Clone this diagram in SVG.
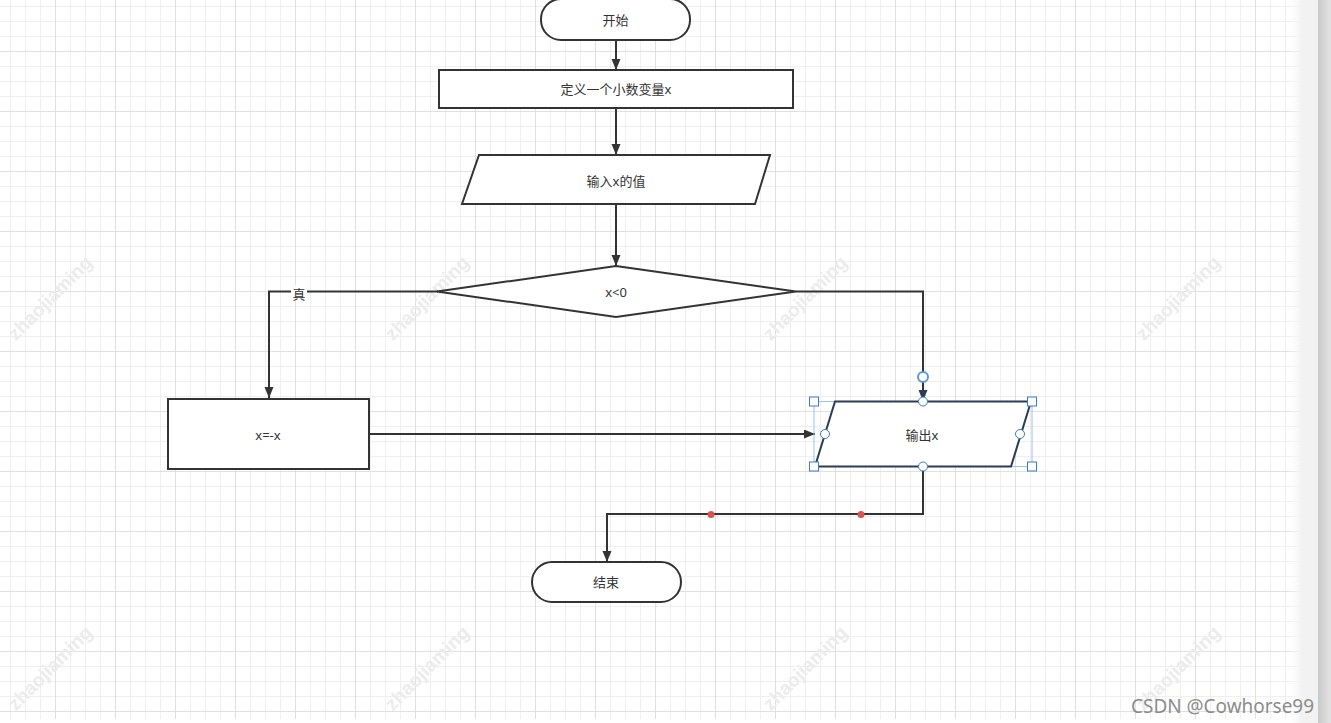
<svg xmlns="http://www.w3.org/2000/svg" width="1331" height="723" viewBox="0 0 1331 723">
<defs>
<pattern id="grid" patternUnits="userSpaceOnUse" x="10" y="6" width="60" height="60">
<path d="M0.5 0V60M15.5 0V60M30.5 0V60M0 0.5H60M0 15.5H60M0 30.5H60" stroke="#efefef" stroke-width="1" fill="none"/>
<path d="M45.5 0V60M0 45.5H60" stroke="#e0e0e0" stroke-width="1" fill="none"/>
</pattern>
<linearGradient id="side" x1="0" y1="0" x2="1" y2="0">
<stop offset="0" stop-color="#c9c9c9"/>
<stop offset="1" stop-color="#e4e4e4"/>
</linearGradient>
<linearGradient id="fade" x1="0" y1="0" x2="1" y2="0">
<stop offset="0" stop-color="#ffffff" stop-opacity="0"/>
<stop offset="1" stop-color="#f2f2f2"/>
</linearGradient>
<marker id="arr" markerUnits="userSpaceOnUse" markerWidth="12" markerHeight="10" refX="11" refY="4.5" orient="auto">
<path d="M0,0 L11,4.5 L0,9 z" fill="#333"/>
</marker>
<marker id="arrb" markerUnits="userSpaceOnUse" markerWidth="12" markerHeight="10" refX="11" refY="4.5" orient="auto">
<path d="M0,0 L11,4.5 L0,9 z" fill="#2a3d55"/>
</marker>
</defs>
<style>
.shape{fill:#fff;stroke:#333;stroke-width:2}
.lbl{font-family:"Noto Sans","Noto Sans CJK SC",sans-serif;font-size:13px;fill:#333;text-anchor:middle;dominant-baseline:central}
.conn{fill:none;stroke:#333;stroke-width:2;marker-end:url(#arr)}
.wm{font-family:"Liberation Sans",sans-serif;font-size:19px;font-weight:bold;fill:#ececec;text-anchor:middle;dominant-baseline:central}
.sq{fill:#fff;stroke:#3a7cc4;stroke-width:1}
.ci{fill:#fff;stroke:#3a7cc4;stroke-width:1}
</style>
<rect x="0" y="0" width="1331" height="723" fill="#fff"/>
<rect x="0" y="0" width="1302" height="719" fill="url(#grid)"/>
<rect x="1286" y="0" width="16" height="723" fill="url(#fade)"/>
<rect x="1302" y="0" width="16" height="723" fill="#f2f2f2"/>
<rect x="1318" y="0" width="13" height="723" fill="url(#side)"/>
<g id="watermarks">
<text class="wm" transform="translate(50,298) rotate(-45)">zhaojiaming</text>
<text class="wm" transform="translate(427,298) rotate(-45)">zhaojiaming</text>
<text class="wm" transform="translate(805,298) rotate(-45)">zhaojiaming</text>
<text class="wm" transform="translate(1178,298) rotate(-45)">zhaojiaming</text>
<text class="wm" transform="translate(50,668) rotate(-45)">zhaojiaming</text>
<text class="wm" transform="translate(427,668) rotate(-45)">zhaojiaming</text>
<text class="wm" transform="translate(805,668) rotate(-45)">zhaojiaming</text>
<text class="wm" transform="translate(1178,668) rotate(-45)">zhaojiaming</text>
</g>
<g id="connectors">
<path class="conn" d="M616 40V70"/>
<path class="conn" d="M616 108V155"/>
<path class="conn" d="M616 204V266"/>
<path class="conn" d="M438 291.5H269V398"/>
<path class="conn" d="M796 291.5H923V401" style="marker-end:url(#arrb)"/>
<path class="conn" d="M369 434H815"/>
<path class="conn" d="M923 467V514H607V562"/>
<rect x="291" y="285" width="16" height="16" fill="#fff"/>
<text class="lbl" x="299" y="293.5">真</text>
<circle cx="711" cy="514.5" r="3.5" fill="#d9534f"/>
<circle cx="861" cy="514.5" r="3.5" fill="#d9534f"/>
</g>
<g id="start">
<rect class="shape" x="541" y="-1" width="149" height="41" rx="20" ry="20"/>
<text class="lbl" x="615.5" y="20">开始</text>
</g>
<g id="define">
<rect class="shape" x="439" y="70" width="354" height="38"/>
<text class="lbl" x="616" y="89">定义一个小数变量x</text>
</g>
<g id="input">
<polygon class="shape" points="479,155 770,155 755,204 462,204"/>
<text class="lbl" x="616" y="181">输入x的值</text>
</g>
<g id="decision">
<polygon class="shape" points="616,266 796,291.5 616,317 437,291.5"/>
<text class="lbl" x="616" y="292">x&lt;0</text>
</g>
<g id="negate">
<rect class="shape" x="168" y="399" width="201" height="70"/>
<text class="lbl" x="268" y="435">x=-x</text>
</g>
<g id="output">
<rect x="814" y="401.5" width="218" height="65" fill="none" stroke="#9cc3ec" stroke-width="1"/>
<polygon points="835,401.5 1031,401.5 1011,466.5 815,466.5" fill="#fff" stroke="#2a3d55" stroke-width="2"/>
<text class="lbl" x="922" y="435">输出x</text>
<rect class="sq" x="809.5" y="397" width="9" height="9"/>
<rect class="sq" x="1027.5" y="397" width="9" height="9"/>
<rect class="sq" x="809.5" y="462" width="9" height="9"/>
<rect class="sq" x="1027.5" y="462" width="9" height="9"/>
<circle class="ci" cx="923" cy="401.5" r="4.5"/>
<circle class="ci" cx="825" cy="434" r="4.5"/>
<circle class="ci" cx="1020" cy="434" r="4.5"/>
<circle class="ci" cx="923" cy="466.5" r="4.5"/>
<circle cx="923" cy="377" r="5" fill="#fff" stroke="#5b97d6" stroke-width="2"/>
</g>
<g id="end">
<rect class="shape" x="532" y="562" width="149" height="40" rx="20" ry="20"/>
<text class="lbl" x="606" y="582">结束</text>
</g>
<text x="1131" y="713" font-family="Noto Sans, sans-serif" font-size="19" fill="#8c8c8c" textLength="183" lengthAdjust="spacingAndGlyphs">CSDN @Cowhorse99</text>
</svg>
